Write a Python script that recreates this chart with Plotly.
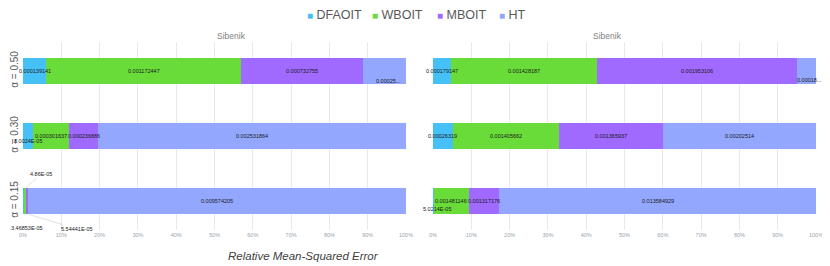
import plotly.graph_objects as go

categories = ["α = 0.15", "α = 0.30", "α = 0.50"]
series_names = ["DFAOIT", "WBOIT", "MBOIT", "HT"]

# Left panel (Sibenik)
dfaoit_left = [3.46853e-05, 8.0024e-05, 0.000139141]
wboit_left = [4.86e-05, 0.000301637, 0.001172447]
mboit_left = [5.54441e-05, 0.000236886, 0.000732755]
ht_left = [0.009574205, 0.002531864, 0.000259]

# Right panel (Sibenik)
dfaoit_right = [5.0214e-05, 0.00026319, 0.000179147]
wboit_right = [0.001481146, 0.001405662, 0.001428187]
mboit_right = [0.001317176, 0.001365937, 0.001953106]
ht_right = [0.013584929, 0.00202514, 0.000182]

panel_titles = ["Sibenik", "Sibenik"]
x_ticks = [0, 10, 20, 30, 40, 50, 60, 70, 80, 90, 100]
x_tick_labels = [f"{v}%" for v in x_ticks]
x_title = "Relative Mean-Squared Error"

colors = {"DFAOIT": "#45C1F8", "WBOIT": "#69DC39", "MBOIT": "#A069FF", "HT": "#93A7FE"}
legend_x = [0.3556, 0.4375, 0.5195, 0.5977]  # left edge of each legend entry (paper)

panels = [
    dict(xa="x", ya="y", data=[dfaoit_left, wboit_left, mboit_left, ht_left]),
    dict(xa="x2", ya="y2", data=[dfaoit_right, wboit_right, mboit_right, ht_right]),
]

# label placement styles: (panel, category index, series index) -> options
label_style = {
    (0, 2, 3): dict(xshift=4, yshift=-10, trunc=True),
    (0, 1, 0): dict(xshift=0, yshift=-5),
    (0, 0, 0): dict(xshift=3, yshift=-27),
    (0, 0, 1): dict(ax=16, ay=-14, edge="top"),
    (0, 0, 2): dict(ax=50, ay=15, edge="bottom"),
    (1, 2, 3): dict(xshift=3, yshift=-9, trunc=True),
    (1, 0, 0): dict(xshift=3, yshift=-8),
}

BAR_W = 0.4


def fmt(v):
    if v < 1e-4:
        m, e = f"{v:.5E}".split("E")
        m = m.rstrip("0").rstrip(".")
        return f"{m}E{e}"
    return f"{v:.9f}".rstrip("0")


fig = go.Figure()
annotations = []
for p, panel in enumerate(panels):
    for s, name in enumerate(series_names):
        fig.add_trace(go.Bar(
            y=categories, x=panel["data"][s], orientation="h", name=name,
            marker=dict(color=colors[name], line=dict(width=0)),
            xaxis=panel["xa"], yaxis=panel["ya"], showlegend=False,
            width=BAR_W, hoverinfo="x+name",
        ))
    for c in range(len(categories)):
        vals = [panel["data"][s][c] for s in range(4)]
        tot = sum(vals)
        cum = 0.0
        for s in range(4):
            pct0 = cum / tot * 100
            cum += vals[s]
            pct1 = cum / tot * 100
            xc = (pct0 + pct1) / 2
            txt = fmt(vals[s])
            st = label_style.get((p, c, s), {})
            if st.get("trunc"):
                txt = txt[:7] + "..."
            ann = dict(x=xc, y=c, xref=panel["xa"], yref=panel["ya"], text=txt,
                       font=dict(size=5.5, color="#1A1A1A", family="Liberation Sans"),
                       showarrow=False)
            if "ax" in st:
                yy = c + BAR_W / 2 if st["edge"] == "top" else c - BAR_W / 2
                ann.update(y=yy, showarrow=True, arrowhead=0, arrowwidth=0.6,
                           arrowcolor="#C8CCD0", ax=st["ax"], ay=st["ay"])
            else:
                ann.update(xshift=st.get("xshift", 0), yshift=st.get("yshift", 0))
            annotations.append(ann)

# legend drawn as text entries
for s, name in enumerate(series_names):
    annotations.append(dict(
        x=legend_x[s], y=1.1436, xref="paper", yref="paper", xanchor="left", yanchor="middle",
        showarrow=False,
        text=f"<span style='font-size:10px;color:{colors[name]}'>■</span> {name}",
        font=dict(size=12.5, color="#595959", family="Liberation Sans")))

dom_l = [0, 0.483]
dom_r = [0.517, 1]
for i, dom in enumerate([dom_l, dom_r]):
    annotations.append(dict(x=(dom[0] + dom[1]) / 2, y=1.03, xref="paper", yref="paper",
                            text=panel_titles[i], showarrow=False, yanchor="middle",
                            font=dict(size=8.5, color="#7F7F7F", family="Liberation Sans")))
annotations.append(dict(x=0.256, y=-0.138, xref="paper", yref="paper",
                        text="<i>" + x_title + "</i>",
                        showarrow=False, yanchor="middle",
                        font=dict(size=11.5, color="#404040", family="Liberation Sans")))

xaxis_common = dict(range=[0, 100], tickvals=x_ticks, ticktext=x_tick_labels, showgrid=True,
                    gridcolor="#E5EAF0", gridwidth=1, zeroline=False, showline=False,
                    tickfont=dict(size=5.5, color="#98A4AE", family="Liberation Sans"),
                    ticks="", fixedrange=True, automargin=False)
yaxis_common = dict(range=[-0.446, 2.446], showgrid=False, zeroline=False, showline=False,
                    ticks="", categoryorder="array", categoryarray=categories,
                    automargin=False)

# the page adds an 8px body margin, so the figure is sized to fit the window
fig.update_layout(
    width=822, height=258,
    margin=dict(l=15, r=14, t=34, b=36, autoexpand=False),
    paper_bgcolor="white", plot_bgcolor="white",
    barmode="stack", barnorm="percent",
    xaxis=dict(domain=dom_l, anchor="y", **xaxis_common),
    xaxis2=dict(domain=dom_r, anchor="y2", **xaxis_common),
    yaxis=dict(anchor="x", tickangle=-90, showticklabels=True, ticklabelstandoff=2,
               tickfont=dict(size=10, color="#595959", family="Liberation Sans"),
               **yaxis_common),
    yaxis2=dict(anchor="x2", showticklabels=False, **yaxis_common),
    annotations=annotations,
    showlegend=False,
)

fig.write_html("out.html")
